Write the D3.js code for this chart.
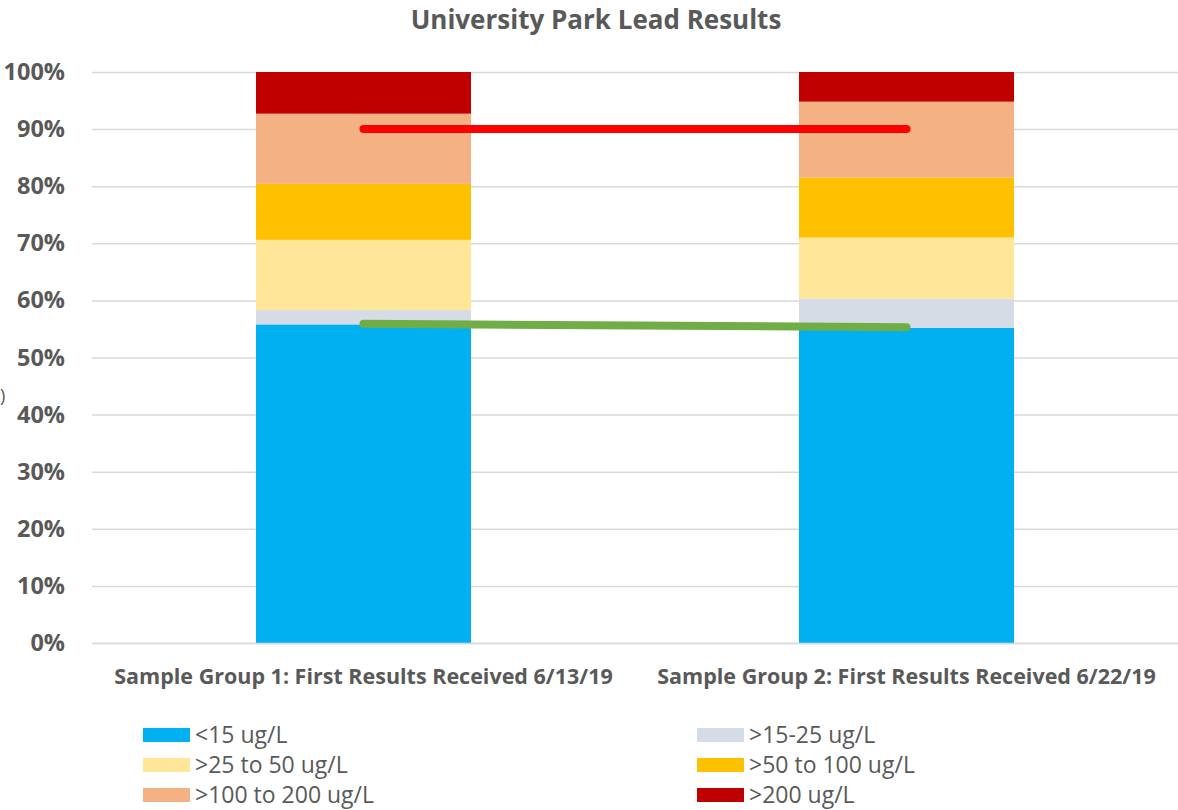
<!DOCTYPE html>
<html>
<head>
<meta charset="utf-8">
<script src="https://cdn.jsdelivr.net/npm/d3@7"></script>
<style>
  html, body { margin: 0; padding: 0; background: #ffffff; }
  svg { display: block; }
  text { font-family: "Open Sans", Lato, sans-serif; fill: #595959; }
</style>
</head>
<body>
<svg id="chart" width="1178" height="810"></svg>
<script>
// Sample groups along the x axis
const categories = [
  "Sample Group 1: First Results Received 6/13/19",
  "Sample Group 2: First Results Received 6/22/19"
];

// Lead concentration bands, bottom to top of each stack
const bands = [
  "<15 ug/L",
  ">15-25 ug/L",
  ">25 to 50 ug/L",
  ">50 to 100 ug/L",
  ">100 to 200 ug/L",
  ">200 ug/L"
];

// Percent of samples in each band, one array per sample group
const group1Values = [55.8, 2.5, 12.3, 9.8, 12.3, 7.3];
const group2Values = [55.2, 5.1, 10.7, 10.5, 13.3, 5.2];

// Reference lines across the two groups (percent)
const ninetiethLine = [90, 90];
const underFifteenLine = [55.9, 55.3];

// Y axis ticks
const yTicks = [0, 10, 20, 30, 40, 50, 60, 70, 80, 90, 100];

const bandColors = ["#00B0F0", "#D6DCE5", "#FFE699", "#FFC000", "#F4B183", "#C00000"];

const svg = d3.select("#chart");
const plot = { left: 92, right: 1178, top: 72, bottom: 643 };

const x = d3.scaleBand()
  .domain(categories)
  .range([plot.left, plot.right])
  .paddingInner(0.604)
  .paddingOuter(0.302);

const y = d3.scaleLinear()
  .domain([0, 100])
  .range([plot.bottom, plot.top]);

// Title
svg.append("text")
  .attr("x", 596)
  .attr("y", 29)
  .attr("text-anchor", "middle")
  .style("font-size", "26px")
  .style("font-weight", "700")
  .text("University Park Lead Results");

// Clipped axis-title glyph at the far left
svg.append("text")
  .attr("x", 0)
  .attr("y", 402)
  .style("font-size", "18px")
  .text(")");

// Gridlines and y tick labels
const yAxis = d3.axisLeft(y)
  .tickValues(yTicks)
  .tickSize(-(plot.right - plot.left))
  .tickPadding(27)
  .tickFormat(d => d + "%");

const yg = svg.append("g")
  .attr("transform", `translate(${plot.left},0)`)
  .call(yAxis);
yg.select(".domain").remove();
yg.selectAll(".tick line")
  .attr("stroke", "#D9D9D9")
  .attr("stroke-width", 1.5);
yg.selectAll(".tick text")
  .style("font-size", "23.5px")
  .style("font-weight", "700")
  .style("font-family", "'Open Sans', sans-serif")
  .attr("fill", "#595959");

// Stacked bars
const rows = categories.map((c, i) => {
  const vals = i === 0 ? group1Values : group2Values;
  const r = { category: c };
  bands.forEach((b, j) => { r[b] = vals[j]; });
  return r;
});

const stacked = d3.stack().keys(bands)(rows);

svg.append("g")
  .selectAll("g")
  .data(stacked)
  .join("g")
  .attr("fill", (d, i) => bandColors[i])
  .selectAll("rect")
  .data(d => d)
  .join("rect")
  .attr("x", d => x(d.data.category))
  .attr("width", x.bandwidth())
  .attr("y", d => y(d[1]))
  .attr("height", d => y(d[0]) - y(d[1]));

// X axis baseline and labels
const xAxis = d3.axisBottom(x).tickSize(0).tickPadding(26);
const xg = svg.append("g")
  .attr("transform", `translate(0,${plot.bottom})`)
  .call(xAxis);
xg.select(".domain")
  .attr("stroke", "#D9D9D9")
  .attr("stroke-width", 1.5);
xg.selectAll(".tick text")
  .style("font-size", "21.5px")
  .style("font-weight", "700")
  .style("font-family", "'Open Sans', sans-serif")
  .attr("fill", "#595959");

// Reference lines drawn between bar centres
const line = d3.line()
  .x((d, i) => x(categories[i]) + x.bandwidth() / 2)
  .y(d => y(d));

svg.append("path")
  .datum(ninetiethLine)
  .attr("d", line)
  .attr("fill", "none")
  .attr("stroke", "#FF0000")
  .attr("stroke-width", 8)
  .attr("stroke-linecap", "round");

svg.append("path")
  .datum(underFifteenLine)
  .attr("d", line)
  .attr("fill", "none")
  .attr("stroke", "#70AD47")
  .attr("stroke-width", 8)
  .attr("stroke-linecap", "round");

// Legend: two columns, three rows
const legendCols = [143, 697];
const legendRows = [735, 765, 795];
const legend = svg.append("g");
bands.forEach((b, i) => {
  const cx = legendCols[i % 2];
  const cy = legendRows[Math.floor(i / 2)];
  legend.append("rect")
    .attr("x", cx)
    .attr("y", cy - 7)
    .attr("width", 47)
    .attr("height", 14)
    .attr("fill", bandColors[i]);
  legend.append("text")
    .attr("x", cx + 52)
    .attr("y", cy)
    .attr("dy", "0.35em")
    .style("font-size", "23px")
    .text(b);
});
</script>
</body>
</html>
